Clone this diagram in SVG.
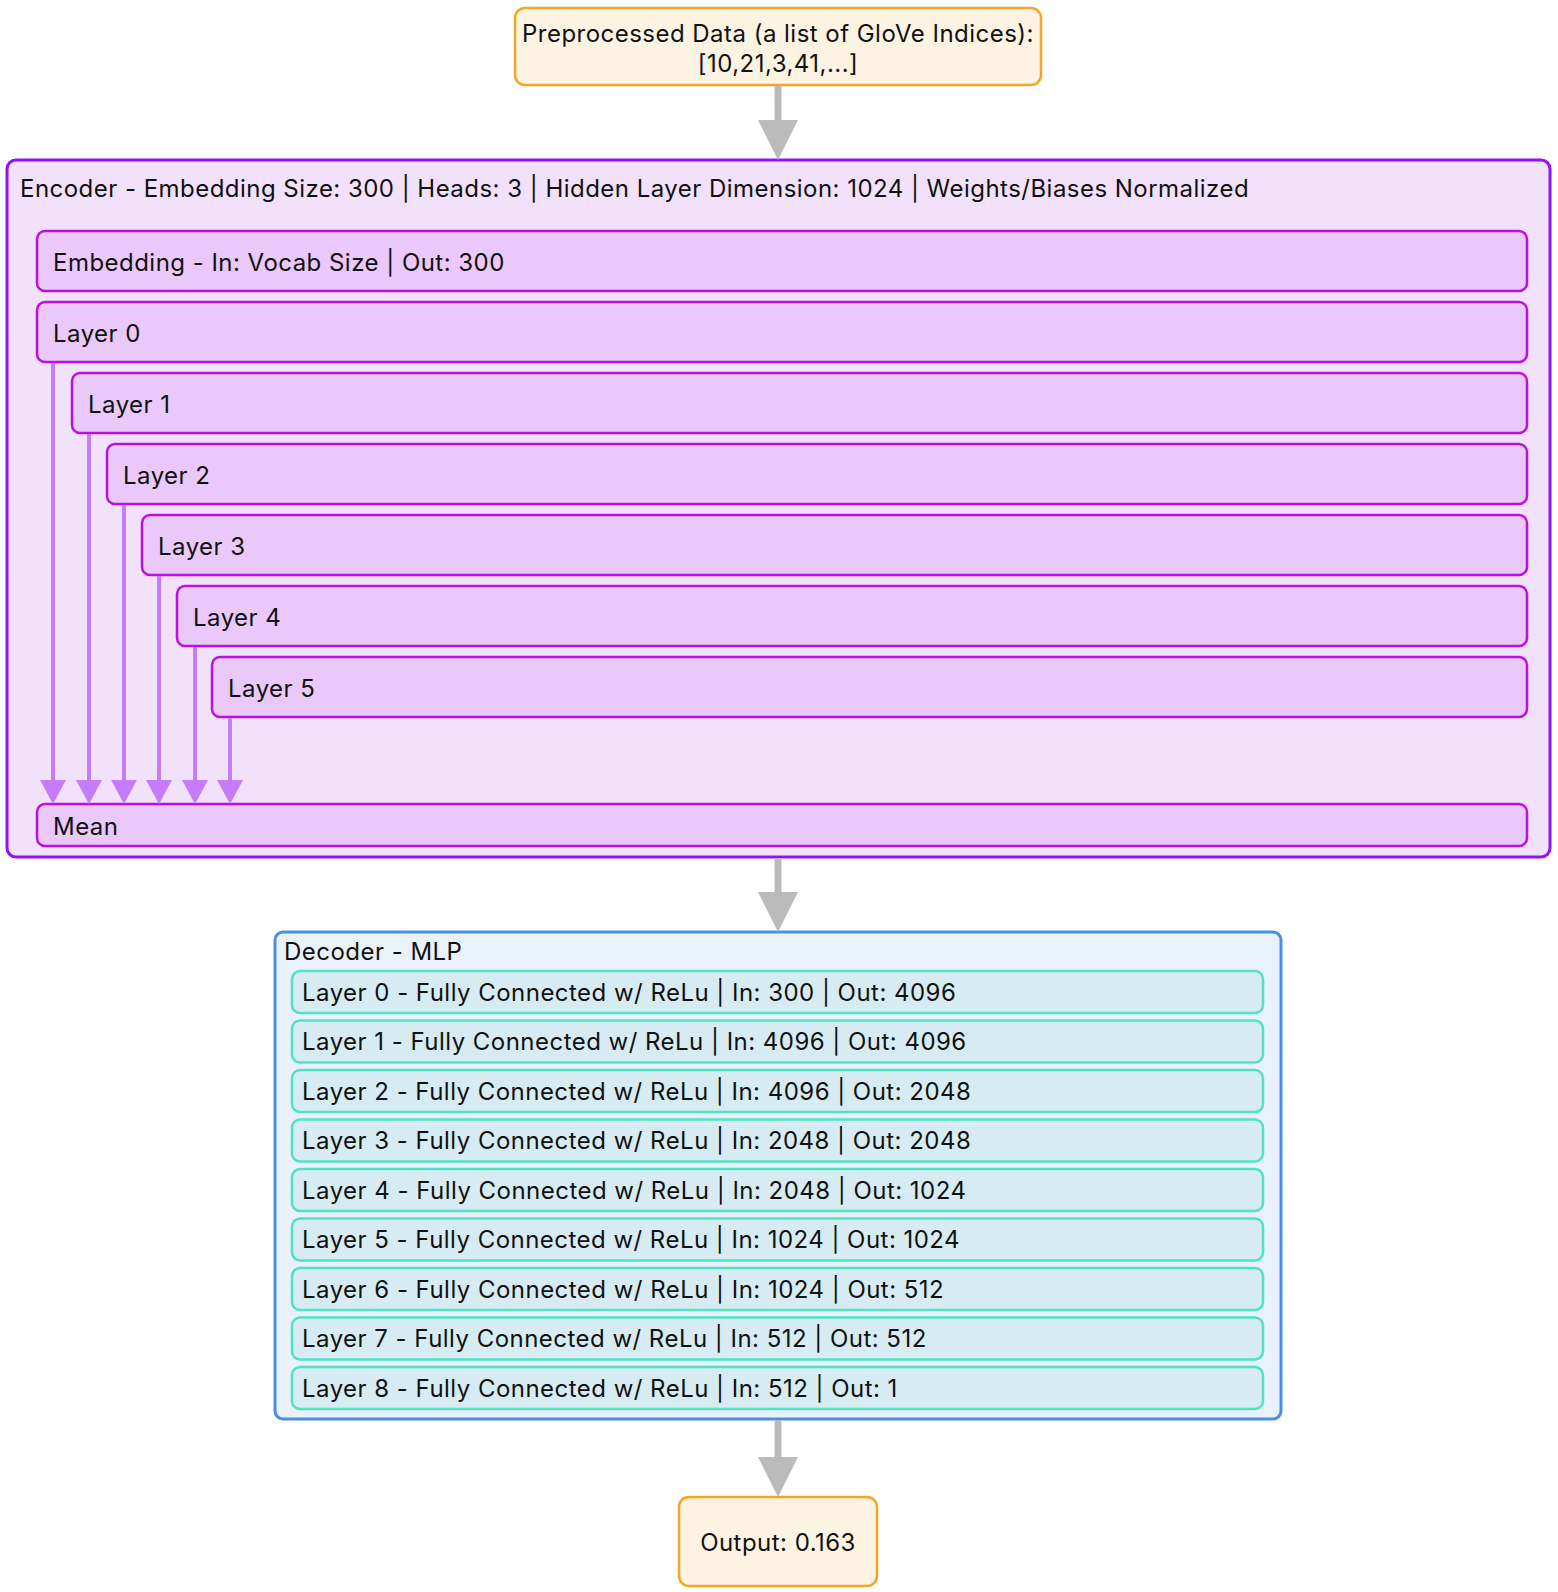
<svg xmlns="http://www.w3.org/2000/svg" width="1558" height="1592" viewBox="0 0 1558 1592">
<style>
text{font-family:Inter,"Noto Sans",sans-serif;font-size:24px;letter-spacing:0.47px;fill:#111;dominant-baseline:central}
.io{fill:#fdf3e2;stroke:#f5a623;stroke-width:2.5}
.enc{fill:#f1e1fb;stroke:#9013fe;stroke-width:3}
.el{fill:#eac8f9;stroke:#bd10e0;stroke-width:2.5}
.dec{fill:#e9f1fa;stroke:#4a90e2;stroke-width:3}
.dl{fill:#d6ecf2;stroke:#50e3c2;stroke-width:2.5}
.ga{stroke:#bbbbbb;stroke-width:7;fill:none}
.pa{stroke:#c57cf9;stroke-width:4;fill:none}
</style>
<defs>
<marker id="gh" markerUnits="userSpaceOnUse" markerWidth="40" markerHeight="40" viewBox="0 0 40 40" refX="0" refY="20" orient="auto" overflow="visible"><path d="M0,0 L40,20 L0,40 Z" fill="#bbbbbb"/></marker>
<marker id="ph" markerUnits="userSpaceOnUse" markerWidth="24" markerHeight="26" viewBox="0 0 24 26" refX="0" refY="13" orient="auto" overflow="visible"><path d="M0,0 L24,13 L0,26 Z" fill="#c57cf9"/></marker>
</defs>
<g id="input"><rect class="io" x="515" y="8" width="526" height="77" rx="10"/><text x="778" y="33" text-anchor="middle">Preprocessed Data (a list of GloVe Indices):</text><text x="778" y="63" text-anchor="middle">[10,21,3,41,...]</text></g>
<g id="encoder"><rect class="enc" x="7" y="160" width="1543" height="697" rx="9"/><text x="20" y="188">Encoder - Embedding Size: 300 | Heads: 3 | Hidden Layer Dimension: 1024 | Weights/Biases Normalized</text></g>
<g id="embedding"><rect class="el" x="37" y="231" width="1490" height="60" rx="8"/><text x="53" y="262">Embedding - In: Vocab Size | Out: 300</text></g>
<g id="enc-layer0"><rect class="el" x="37" y="302" width="1490" height="60" rx="8"/><text x="53" y="333">Layer 0</text></g>
<g id="enc-layer1"><rect class="el" x="72" y="373" width="1455" height="60" rx="8"/><text x="88" y="404">Layer 1</text></g>
<g id="enc-layer2"><rect class="el" x="107" y="444" width="1420" height="60" rx="8"/><text x="123" y="475">Layer 2</text></g>
<g id="enc-layer3"><rect class="el" x="142" y="515" width="1385" height="60" rx="8"/><text x="158" y="546">Layer 3</text></g>
<g id="enc-layer4"><rect class="el" x="177" y="586" width="1350" height="60" rx="8"/><text x="193" y="617">Layer 4</text></g>
<g id="enc-layer5"><rect class="el" x="212" y="657" width="1315" height="60" rx="8"/><text x="228" y="688">Layer 5</text></g>
<g id="mean"><rect class="el" x="37" y="804" width="1490" height="42" rx="8"/><text x="53" y="826">Mean</text></g>
<g id="decoder"><rect class="dec" x="275" y="932" width="1006" height="487" rx="8"/><text x="284" y="951">Decoder - MLP</text></g>
<g id="dec-layer0"><rect class="dl" x="292" y="971" width="971" height="42" rx="8"/><text x="302" y="992">Layer 0 - Fully Connected w/ ReLu | In: 300 | Out: 4096</text></g>
<g id="dec-layer1"><rect class="dl" x="292" y="1020.5" width="971" height="42" rx="8"/><text x="302" y="1041.5">Layer 1 - Fully Connected w/ ReLu | In: 4096 | Out: 4096</text></g>
<g id="dec-layer2"><rect class="dl" x="292" y="1070" width="971" height="42" rx="8"/><text x="302" y="1091">Layer 2 - Fully Connected w/ ReLu | In: 4096 | Out: 2048</text></g>
<g id="dec-layer3"><rect class="dl" x="292" y="1119.5" width="971" height="42" rx="8"/><text x="302" y="1140.5">Layer 3 - Fully Connected w/ ReLu | In: 2048 | Out: 2048</text></g>
<g id="dec-layer4"><rect class="dl" x="292" y="1169" width="971" height="42" rx="8"/><text x="302" y="1190">Layer 4 - Fully Connected w/ ReLu | In: 2048 | Out: 1024</text></g>
<g id="dec-layer5"><rect class="dl" x="292" y="1218.5" width="971" height="42" rx="8"/><text x="302" y="1239.5">Layer 5 - Fully Connected w/ ReLu | In: 1024 | Out: 1024</text></g>
<g id="dec-layer6"><rect class="dl" x="292" y="1268" width="971" height="42" rx="8"/><text x="302" y="1289">Layer 6 - Fully Connected w/ ReLu | In: 1024 | Out: 512</text></g>
<g id="dec-layer7"><rect class="dl" x="292" y="1317.5" width="971" height="42" rx="8"/><text x="302" y="1338.5">Layer 7 - Fully Connected w/ ReLu | In: 512 | Out: 512</text></g>
<g id="dec-layer8"><rect class="dl" x="292" y="1367" width="971" height="42" rx="8"/><text x="302" y="1388">Layer 8 - Fully Connected w/ ReLu | In: 512 | Out: 1</text></g>
<g id="output"><rect class="io" x="679" y="1497" width="198" height="89" rx="10"/><text x="778" y="1542" text-anchor="middle">Output: 0.163</text></g>
<g id="connectors">
<path class="ga" d="M778,86 V120" marker-end="url(#gh)"/>
<path class="ga" d="M778,858 V892" marker-end="url(#gh)"/>
<path class="ga" d="M778,1420 V1457" marker-end="url(#gh)"/>
<path class="pa" d="M53,363 V780" marker-end="url(#ph)"/>
<path class="pa" d="M89,434 V780" marker-end="url(#ph)"/>
<path class="pa" d="M124,505 V780" marker-end="url(#ph)"/>
<path class="pa" d="M159,576 V780" marker-end="url(#ph)"/>
<path class="pa" d="M195,647 V780" marker-end="url(#ph)"/>
<path class="pa" d="M230,718 V780" marker-end="url(#ph)"/>
</g>
</svg>
